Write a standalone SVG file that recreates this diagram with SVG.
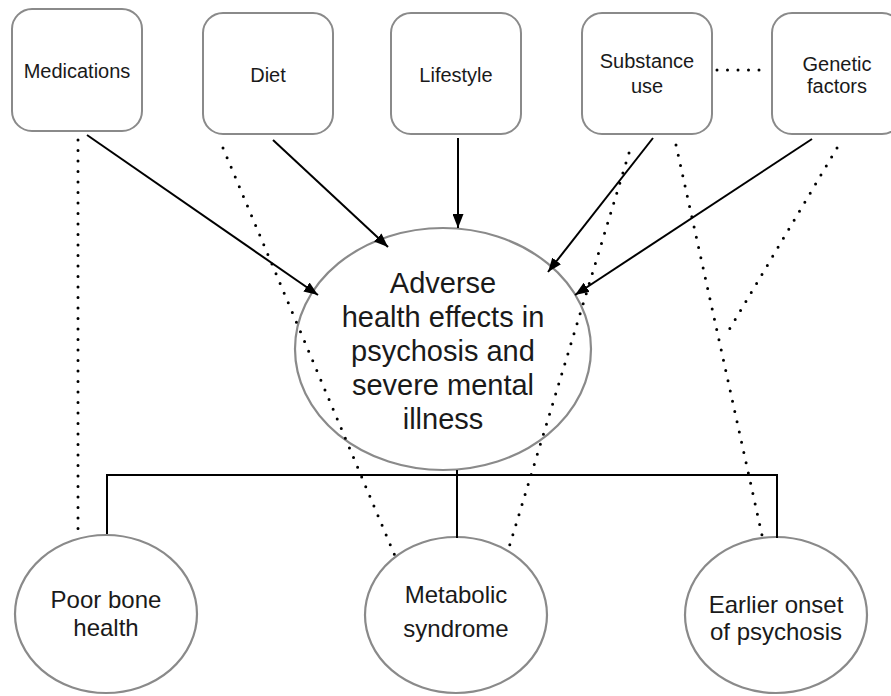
<svg xmlns="http://www.w3.org/2000/svg" width="891" height="696" viewBox="0 0 891 696">
<defs>
<style>
.box{fill:#fff;stroke:#8a8a8a;stroke-width:2}
.ell{fill:none;stroke:#8a8a8a;stroke-width:2.2}
.t{font-family:"Liberation Sans",Arial,sans-serif;fill:#1a1a1a;text-anchor:middle}
.ts{font-size:20px}
.tc{font-size:29px}
.tb{font-size:24px}
.arr{stroke:#000;stroke-width:2;fill:none;marker-end:url(#ah)}
.dot{stroke:#000;stroke-width:3;stroke-linecap:round;stroke-dasharray:0 10.5;fill:none}
.ln{stroke:#000;stroke-width:2;fill:none}
</style>
<marker id="ah" viewBox="0 0 14 11" refX="14" refY="5.5" markerWidth="14" markerHeight="11" markerUnits="userSpaceOnUse" orient="auto">
<path d="M0,0 L14,5.5 L0,11 z" fill="#000"/>
</marker>
</defs>
<rect width="891" height="696" fill="#fff"/>
<g id="medications">
<rect class="box" x="12" y="9" width="130" height="122" rx="20"/>
<text class="t ts" x="77" y="78">Medications</text>
</g>
<g id="diet">
<rect class="box" x="203" y="13" width="130" height="121" rx="20"/>
<text class="t ts" x="268" y="82">Diet</text>
</g>
<g id="lifestyle">
<rect class="box" x="391" y="13" width="130" height="121" rx="20"/>
<text class="t ts" x="456" y="82">Lifestyle</text>
</g>
<g id="substance">
<rect class="box" x="582" y="13" width="130" height="121" rx="20"/>
<text class="t ts" x="647" y="68">Substance</text>
<text class="t ts" x="647" y="93">use</text>
</g>
<g id="genetic">
<rect class="box" x="772" y="13" width="130" height="121" rx="20"/>
<text class="t ts" x="837" y="71">Genetic</text>
<text class="t ts" x="837" y="93">factors</text>
</g>
<g id="adverse">
<ellipse class="ell" cx="443" cy="349" rx="148" ry="121"/>
<text class="t tc" x="443" y="293">Adverse</text>
<text class="t tc" x="443" y="327">health effects in</text>
<text class="t tc" x="443" y="361">psychosis and</text>
<text class="t tc" x="443" y="395">severe mental</text>
<text class="t tc" x="443" y="429">illness</text>
</g>
<g id="bone">
<ellipse class="ell" cx="106" cy="614" rx="91" ry="79"/>
<text class="t tb" x="106" y="608">Poor bone</text>
<text class="t tb" x="106" y="636">health</text>
</g>
<g id="metabolic">
<ellipse class="ell" cx="456" cy="615" rx="91" ry="78"/>
<text class="t tb" x="456" y="603">Metabolic</text>
<text class="t tb" x="456" y="637">syndrome</text>
</g>
<g id="onset">
<ellipse class="ell" cx="776" cy="615" rx="91" ry="78"/>
<text class="t tb" x="776" y="613">Earlier onset</text>
<text class="t tb" x="776" y="640">of psychosis</text>
</g>
<g id="connectors">
<line class="arr" x1="87" y1="135" x2="318" y2="295"/>
<line class="arr" x1="273" y1="140" x2="388" y2="247"/>
<line class="arr" x1="458" y1="138" x2="458" y2="228"/>
<line class="arr" x1="653" y1="138" x2="548" y2="272"/>
<line class="arr" x1="812" y1="139" x2="575" y2="295"/>
<line class="dot" x1="78" y1="140" x2="78" y2="535"/>
<line class="dot" x1="223" y1="148" x2="395" y2="556"/>
<line class="dot" x1="629" y1="153" x2="507" y2="554"/>
<line class="dot" x1="676" y1="145" x2="762" y2="535"/>
<line class="dot" x1="837" y1="148" x2="729" y2="330"/>
<line class="dot" x1="717" y1="70" x2="765" y2="70"/>
<path class="ln" d="M107,534 V475 H777 V538 M457,470 V538"/>
</g>
</svg>
